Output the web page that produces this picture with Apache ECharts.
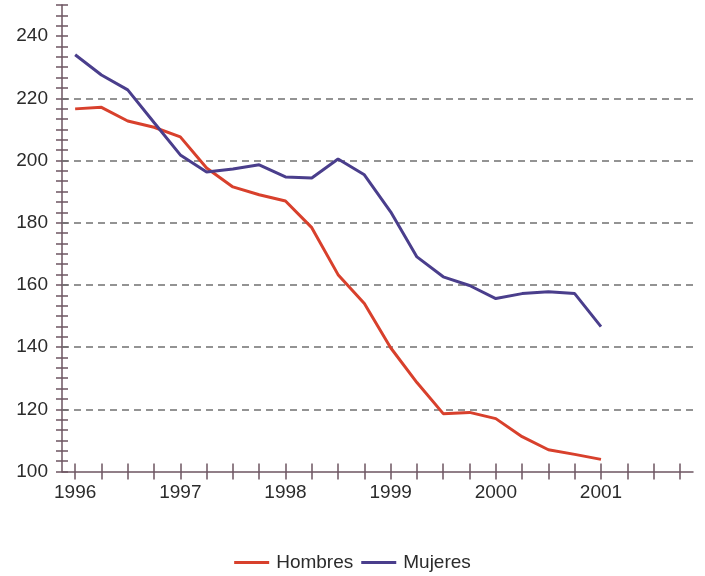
<!DOCTYPE html>
<html>
<head>
<meta charset="utf-8">
<script src="https://cdn.jsdelivr.net/npm/echarts@6/dist/echarts.min.js"></script>
<style>html,body{margin:0;padding:0;background:#fff}#c{width:705px;height:576px}</style>
</head>
<body>
<div id="c"></div>
<script>
// Quarterly periods (years)
var periods = [1996, 1996.25, 1996.5, 1996.75, 1997, 1997.25, 1997.5, 1997.75,
  1998, 1998.25, 1998.5, 1998.75, 1999, 1999.25, 1999.5, 1999.75,
  2000, 2000.25, 2000.5, 2000.75, 2001];
var hombres = [216.6, 217.1, 212.7, 210.7, 207.6, 197.6, 191.5, 189.0,
  187.0, 178.4, 163.3, 154.0, 139.8, 128.6, 118.6, 119.0,
  117.0, 111.2, 107.0, 105.5, 103.9];
var mujeres = [234.0, 227.5, 222.7, 212.2, 201.8, 196.3, 197.3, 198.6,
  194.7, 194.4, 200.5, 195.4, 183.5, 169.0, 162.6, 159.8,
  155.6, 157.2, 157.8, 157.2, 146.6];
var seriesNames = ['Hombres', 'Mujeres'];
var xLabels = [1996, 1997, 1998, 1999, 2000, 2001];
var yLabels = [100, 120, 140, 160, 180, 200, 220, 240];
var gridValues = [120, 140, 160, 180, 200, 220];

var xTicks = [];
for (var i = 0; i < 24; i++) xTicks.push(1996 + i * 0.25);
var yTicks = [];
for (var k = 0; k <= 45; k++) yTicks.push(100 + k * 10 / 3);

function pairs(vals) { return periods.map(function (p, i) { return [p, vals[i]]; }); }

var axisColor = '#6d5561';
var font = 'Liberation Sans, Arial, Helvetica, sans-serif';
var txt = '#2b2b2b';

var chart = echarts.init(document.getElementById('c'));
var xBase = { type: 'value', min: 1995.875, max: 2001.875, position: 'bottom', splitLine: { show: false } };
var yBase = { type: 'value', min: 100, max: 250, position: 'left', splitLine: { show: false } };
chart.setOption({
  backgroundColor: '#ffffff',
  animation: false,
  grid: { left: 62, right: 12, top: 5, bottom: 104.5 },
  xAxis: [
    Object.assign({}, xBase, {
      axisLine: { show: true, onZero: false, lineStyle: { color: axisColor, width: 1.5 } },
      axisTick: { show: true, inside: false, length: 8, customValues: xTicks, lineStyle: { color: axisColor, width: 1.5 } },
      axisLabel: { show: true, customValues: xLabels, margin: 12, fontSize: 19, color: txt, fontFamily: font,
        formatter: function (v) { return String(Math.round(v)); } }
    }),
    Object.assign({}, xBase, {
      axisLine: { show: false, onZero: false },
      axisTick: { show: true, inside: true, length: 8, customValues: xTicks, lineStyle: { color: axisColor, width: 1.5 } },
      axisLabel: { show: false }
    })
  ],
  yAxis: [
    Object.assign({}, yBase, {
      axisLine: { show: true, onZero: false, lineStyle: { color: axisColor, width: 1.5 } },
      axisTick: { show: true, inside: false, length: 6, customValues: yTicks, lineStyle: { color: axisColor, width: 1.5 } },
      axisLabel: { show: true, customValues: yLabels, margin: 14, fontSize: 19, color: txt, fontFamily: font,
        formatter: function (v) { return String(Math.round(v)); } }
    }),
    Object.assign({}, yBase, {
      axisLine: { show: false, onZero: false },
      axisTick: { show: true, inside: true, length: 6, customValues: yTicks, lineStyle: { color: axisColor, width: 1.5 } },
      axisLabel: { show: false }
    })
  ],
  legend: {
    data: seriesNames,
    left: 'center',
    top: 548,
    icon: 'rect',
    itemWidth: 35,
    itemHeight: 3,
    itemGap: 8,
    textStyle: { fontSize: 19, color: txt, fontFamily: font, padding: [0, 0, 0, 2] }
  },
  series: [
    {
      name: seriesNames[0], type: 'line', data: pairs(hombres), symbol: 'none',
      lineStyle: { color: '#d8402c', width: 3 }, itemStyle: { color: '#d8402c' },
      z: 3,
      markLine: {
        silent: true, symbol: 'none', label: { show: false },
        lineStyle: { color: '#707070', type: [7, 5], width: 1.5 },
        data: gridValues.map(function (v) { return { yAxis: v }; }),
        z: 1
      }
    },
    {
      name: seriesNames[1], type: 'line', data: pairs(mujeres), symbol: 'none',
      lineStyle: { color: '#4a3e8c', width: 3 }, itemStyle: { color: '#4a3e8c' },
      z: 4
    }
  ]
});
</script>
</body>
</html>
